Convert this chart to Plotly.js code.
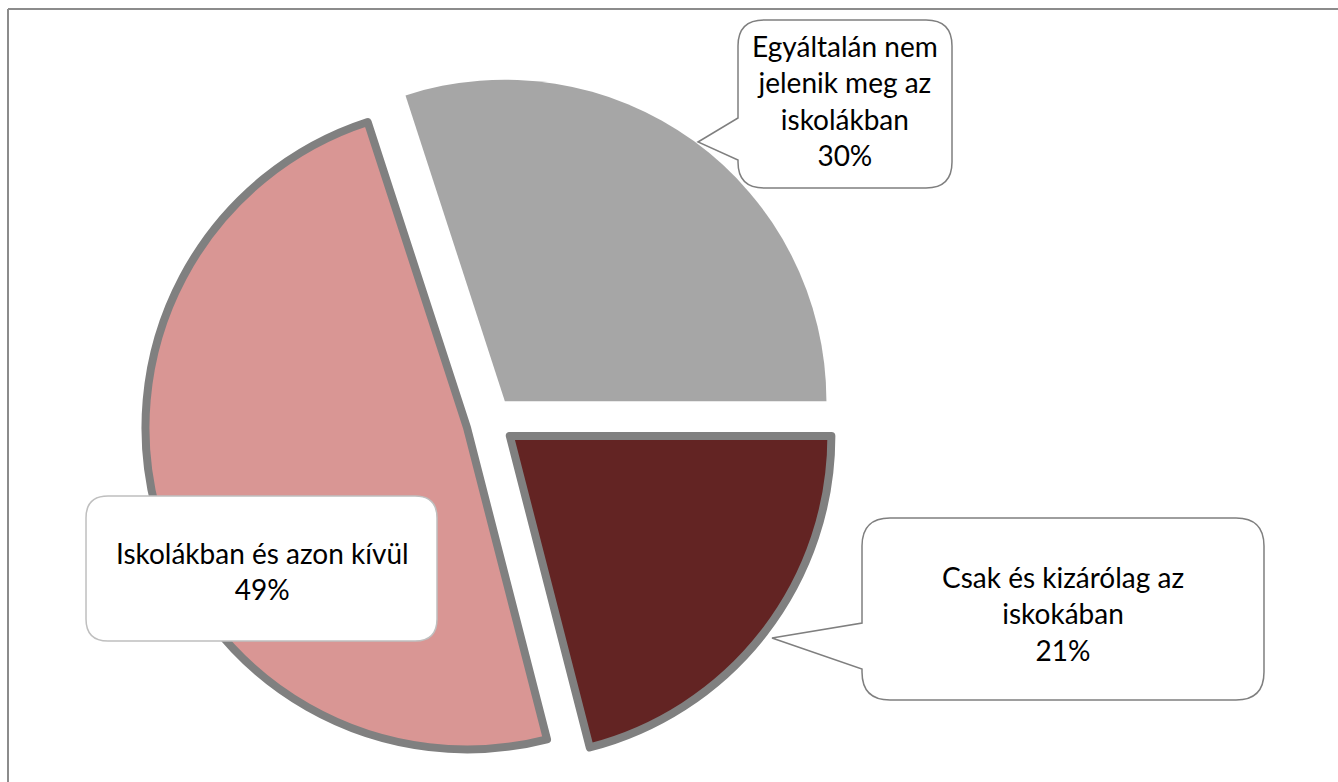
<!DOCTYPE html>
<html>
<head>
<meta charset="utf-8">
<script src="https://cdn.plot.ly/plotly-3.0.1.min.js"></script>
<style>
    html, body { margin: 0; padding: 0; background: #ffffff; }
    #chart { width: 1338px; height: 782px; }
</style>
</head>
<body>
<div id="chart"></div>
<script>
// adatok
const labels = [
    'Egyáltalán nem<br>jelenik meg az<br>iskolákban',
    'Csak és kizárólag az<br>iskokában',
    'Iskolákban és azon kívül'
];
const values = [30, 21, 49];
const sliceColors = ['#a6a6a6', '#632423', '#d99694'];
const outlineColors = ['rgba(0,0,0,0)', '#808080', '#808080'];
const outlineWidths = [0, 8, 8];

const W = 1338;
const H = 782;

// pixel -> paper
function fx(px) { return px / W; }
function fy(py) { return 1 - py / H; }

// lekerekített szövegbuborék, opcionális csőrrel a bal oldalon
function bubblePath(x0, y0, x1, y1, r, pointer) {
    const p = (x, y) => fx(x).toFixed(5) + ',' + fy(y).toFixed(5);
    let d = 'M' + p(x0 + r, y0) +
        ' L' + p(x1 - r, y0) + ' Q' + p(x1, y0) + ' ' + p(x1, y0 + r) +
        ' L' + p(x1, y1 - r) + ' Q' + p(x1, y1) + ' ' + p(x1 - r, y1) +
        ' L' + p(x0 + r, y1) + ' Q' + p(x0, y1) + ' ' + p(x0, y1 - r);
    if (pointer) {
        d += ' L' + p(x0, pointer.low) + ' L' + p(pointer.tx, pointer.ty) + ' L' + p(x0, pointer.high);
    }
    d += ' L' + p(x0, y0 + r) + ' Q' + p(x0, y0) + ' ' + p(x0 + r, y0) + ' Z';
    return d;
}

const pieTrace = {
    type: 'pie',
    labels: labels,
    values: values,
    sort: false,
    direction: 'clockwise',
    rotation: -18,
    pull: [0.076, 0.076, 0.076],
    marker: {
        colors: sliceColors,
        line: { color: outlineColors, width: outlineWidths }
    },
    textinfo: 'none',
    hoverinfo: 'label+percent',
    domain: { x: [fx(144), fx(837)], y: [fy(767), fy(75)] }
};

const textFont = { family: 'Lato, "Open Sans", sans-serif', size: 28, color: '#000000' };

const calloutCenters = [[845, 101], [1063, 613], [262, 571]];

const annotations = labels.map((lab, i) => ({
    text: lab + '<br>' + values[i] + '%',
    xref: 'paper', yref: 'paper',
    x: fx(calloutCenters[i][0]), y: fy(calloutCenters[i][1]),
    xanchor: 'center', yanchor: 'middle',
    showarrow: false,
    align: 'center',
    font: textFont
}));

const shapes = [
    // keret (csak a felső és bal oldala látszik)
    { type: 'line', xref: 'paper', yref: 'paper', x0: fx(8), y0: fy(9), x1: 1, y1: fy(9),
      line: { color: '#8c8c8c', width: 2 } },
    { type: 'line', xref: 'paper', yref: 'paper', x0: fx(8), y0: fy(9), x1: fx(8), y1: 0,
      line: { color: '#8c8c8c', width: 2 } },
    { type: 'path', xref: 'paper', yref: 'paper',
      path: bubblePath(738, 20, 952, 188, 26, { low: 160, tx: 698, ty: 142, high: 118 }),
      fillcolor: '#ffffff', line: { color: '#7f7f7f', width: 1.5 } },
    { type: 'path', xref: 'paper', yref: 'paper',
      path: bubblePath(862, 518, 1264, 700, 28, { low: 669, tx: 772, ty: 638, high: 623 }),
      fillcolor: '#ffffff', line: { color: '#7f7f7f', width: 1.5 } },
    { type: 'path', xref: 'paper', yref: 'paper',
      path: bubblePath(86, 496, 437, 641, 22, null),
      fillcolor: '#ffffff', line: { color: '#bfbfbf', width: 1.5 } }
];

const layout = {
    width: W,
    height: H,
    margin: { l: 0, r: 0, t: 0, b: 0 },
    paper_bgcolor: '#ffffff',
    showlegend: false,
    shapes: shapes,
    annotations: annotations
};

Plotly.newPlot('chart', [pieTrace], layout, { displayModeBar: false, staticPlot: true });
</script>
</body>
</html>
